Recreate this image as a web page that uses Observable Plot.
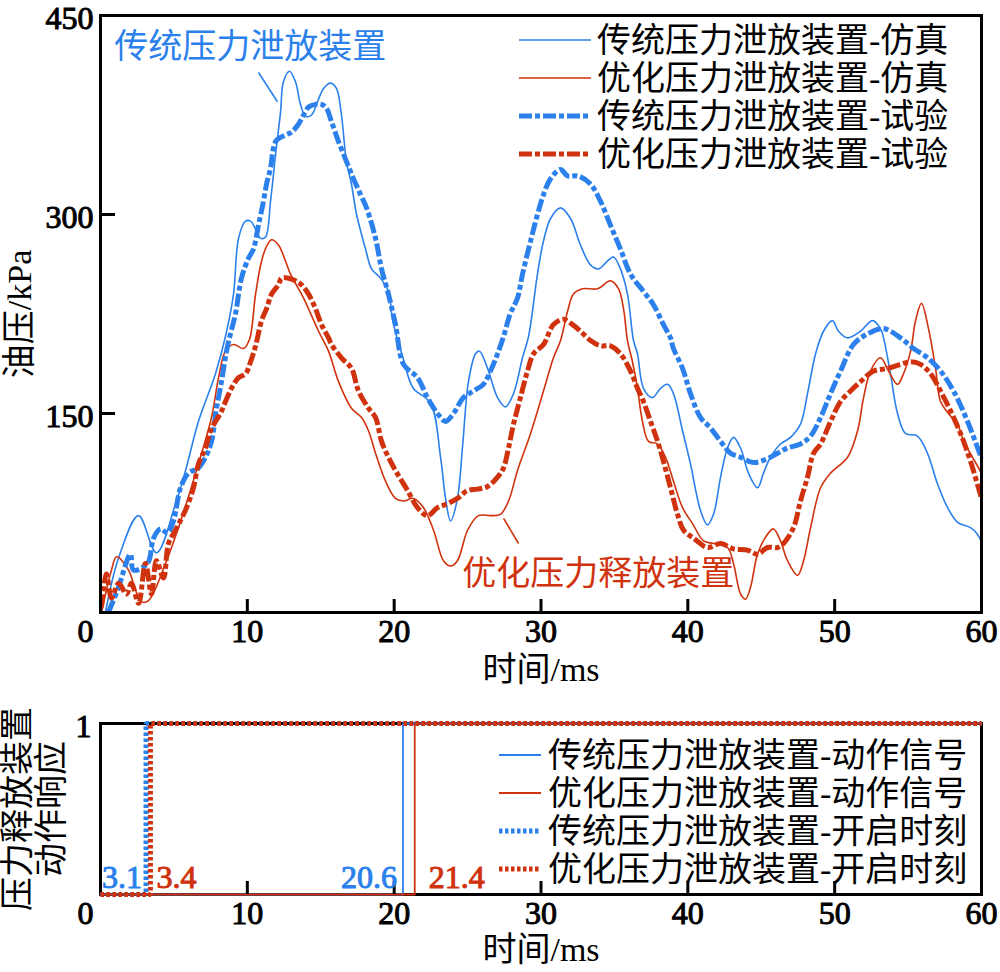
<!DOCTYPE html>
<html><head><meta charset="utf-8">
<script src="https://cdn.jsdelivr.net/npm/d3@7"></script>
<script src="https://cdn.jsdelivr.net/npm/@observablehq/plot@0.6"></script>
<style>
body{margin:0;background:#fff;}
#chart{width:1000px;}
#chart svg{display:block;}
#chart g[aria-label="x-axis tick label"], #chart g[aria-label="y-axis tick label"]{stroke:#000;stroke-width:1px;paint-order:stroke;}
</style></head><body><div id="chart"></div>
<script>
// ---------- data ----------
const xTicks = [0, 10, 20, 30, 40, 50, 60];
const yTicks = [150, 300, 450];
const topLegend = ["传统压力泄放装置-仿真", "优化压力泄放装置-仿真", "传统压力泄放装置-试验", "优化压力泄放装置-试验"];
const bottomLegend = ["传统压力泄放装置-动作信号", "优化压力泄放装置-动作信号", "传统压力泄放装置-开启时刻", "优化压力泄放装置-开启时刻"];
const annotations = ["传统压力泄放装置", "优化压力释放装置"];

// [time ms, pressure kPa]
const tradSim = [[0.34,0],[1.23,41],[2.59,73],[3.81,45],[5.11,82],[5.79,107],[6.67,144],[7.83,180],[8.51,208],[9.06,240],[9.40,282],[9.88,295],[10.22,295],[10.56,289],[10.9,282],[11.24,283],[11.58,310],[11.92,345],[12.26,377],[12.46,400],[12.87,408],[13.28,400],[13.62,383],[13.96,374],[14.37,375],[14.85,387],[15.19,395],[15.66,399],[16.07,395],[16.41,375],[16.75,340],[17.09,323],[17.44,300],[18.05,274],[18.46,259],[19.07,252],[19.61,242],[19.9,220],[20.6,192],[21.3,169],[22.47,158],[23.16,117],[23.50,86],[23.84,69],[24.31,86],[24.65,124],[25.06,174],[25.54,195],[25.81,197],[26.36,184],[27.04,162],[27.58,155],[28.13,165],[28.74,192],[29.15,208],[29.76,255],[30.17,280],[30.65,297],[31.33,305],[32.01,297],[32.69,277],[33.37,262],[33.92,259],[34.53,265],[34.94,268],[35.41,259],[35.89,240],[36.30,205],[36.57,195],[36.98,169],[37.59,162],[38.14,169],[38.62,172],[39.02,165],[39.64,137],[40.18,112],[40.86,77],[41.34,66],[41.75,74],[42.23,102],[42.70,124],[43.11,132],[43.59,124],[44.13,105],[44.75,94],[45.15,105],[45.63,117],[46.31,127],[46.99,132],[47.67,142],[48.15,165],[48.70,195],[49.24,212],[49.85,220],[50.26,212],[50.88,207],[51.76,212],[52.58,220],[53.12,214],[53.33,207],[53.80,180],[54.28,150],[54.82,135],[55.64,133],[56.32,120],[57.00,97],[57.69,79],[58.37,68],[59.25,64],[59.73,59],[60,53]];

const optSim = [[0.07,0],[0.75,32],[1.09,42],[1.91,32],[2.38,17],[2.79,8],[3.27,9],[4.43,37],[5.52,71],[6.67,112],[7.56,147],[8.04,177],[8.51,197],[9.06,202],[9.74,199],[10.15,206],[10.56,240],[10.97,265],[11.31,276],[11.65,281],[12.12,277],[12.60,265],[12.94,255],[13.83,237],[14.85,212],[15.53,197],[16.21,174],[17.09,154],[17.78,147],[18.25,137],[18.73,120],[19.41,99],[20.09,86],[20.64,84],[21.32,86],[22.0,79],[22.68,62],[23.36,39],[23.84,35],[24.31,39],[25.0,62],[25.74,73],[26.56,73],[27.24,74],[27.79,84],[28.4,107],[29.29,135],[30.17,167],[30.85,192],[31.33,205],[31.81,227],[32.21,240],[32.83,244],[33.85,244],[34.73,250],[35.28,244],[35.62,229],[35.89,205],[36.23,189],[36.57,169],[36.91,144],[37.32,129],[37.94,127],[38.48,117],[39.02,99],[39.64,79],[40.32,67],[41.07,54],[41.75,52],[42.70,49],[43.11,37],[43.59,14],[43.93,10],[44.27,19],[44.75,44],[45.43,59],[45.84,63],[46.31,54],[46.79,39],[47.47,28],[47.88,39],[48.36,64],[49.04,94],[49.72,105],[50.88,117],[51.56,137],[51.97,162],[52.44,182],[53.12,192],[53.67,182],[54.28,172],[54.69,180],[55.17,197],[55.51,220],[55.91,233],[56.39,214],[56.87,184],[57.21,159],[57.75,150],[58.37,142],[58.78,129],[59.39,117],[60,105]];

const tradTest = [[0.54,0],[1.16,17],[2.04,44],[2.25,32],[3.2,37],[3.61,56],[4.09,63],[4.56,60],[4.97,69],[5.45,94],[5.99,105],[6.67,109],[7.15,117],[7.56,129],[7.90,154],[8.24,174],[8.58,197],[8.85,210],[9.19,225],[9.60,252],[10.08,267],[10.42,274],[10.76,292],[11.10,310],[11.31,323],[11.58,335],[11.78,350],[11.99,356],[12.60,360],[13.01,362],[13.48,368],[13.83,375],[14.17,381],[14.64,383],[15.05,383],[15.39,380],[15.73,370],[16.21,355],[16.75,340],[17.23,327],[17.71,315],[18.12,305],[18.73,282],[19.14,259],[19.61,240],[20.09,217],[20.64,187],[21.59,177],[22.27,162],[22.95,150],[23.50,144],[24.04,150],[24.72,162],[25.40,167],[26.08,172],[26.56,182],[27.04,195],[27.45,208],[27.9,225],[28.40,237],[28.74,255],[29.29,280],[29.76,300],[30.17,315],[30.65,327],[31.33,334],[31.81,329],[32.55,329],[33.37,323],[34.05,310],[34.73,292],[35.41,274],[36.10,255],[36.98,242],[37.66,232],[38.34,217],[38.82,207],[39.02,199],[39.64,184],[40.18,165],[40.86,147],[41.55,139],[42.23,129],[42.91,120],[43.59,117],[44.47,113],[45.43,116],[46.11,120],[46.79,124],[47.67,127],[48.36,133],[49.04,147],[49.72,165],[50.40,182],[51.28,202],[52.24,210],[53.33,214],[54.48,207],[55.37,199],[56.32,192],[57.21,182],[58.09,167],[59.05,144],[60,116]];

const optTest = [[0.07,4],[0.41,29],[0.75,11],[1.23,22],[1.77,14],[2.11,22],[2.59,7],[3.06,37],[3.47,14],[3.81,39],[4.29,26],[4.63,52],[5.11,62],[5.52,71],[5.86,79],[6.33,94],[6.67,112],[7.15,124],[7.49,137],[7.83,144],[8.17,150],[8.51,159],[8.92,169],[9.40,177],[9.88,180],[10.22,189],[10.56,201],[10.97,220],[11.31,229],[11.65,240],[12.12,247],[12.33,252],[12.80,252],[13.28,250],[13.69,247],[14.17,240],[14.64,229],[15.05,217],[15.53,207],[15.73,202],[16.41,192],[17.09,184],[17.57,167],[18.25,154],[18.73,147],[19.14,129],[19.61,117],[20.09,107],[20.91,92],[21.59,79],[22.27,73],[22.95,79],[23.63,82],[24.31,86],[25.0,92],[25.68,93],[26.36,95],[27.04,102],[27.45,109],[27.79,124],[28.13,142],[28.60,162],[29.08,182],[29.49,195],[30.17,202],[30.85,217],[31.53,221],[32.15,217],[32.69,212],[33.37,205],[34.05,201],[34.73,201],[35.41,195],[36.10,182],[36.57,169],[36.98,159],[37.46,144],[37.94,129],[38.34,114],[38.82,94],[39.30,74],[39.71,62],[40.39,56],[41.34,49],[42.23,52],[43.11,48],[44.06,47],[44.75,44],[45.43,49],[46.11,49],[46.52,52],[47.20,64],[47.67,84],[48.15,102],[48.56,120],[49.04,127],[49.72,144],[50.40,159],[51.08,167],[51.76,174],[52.65,182],[53.60,184],[54.48,187],[55.17,189],[55.85,187],[56.53,180],[57.21,167],[57.89,152],[58.57,135],[59.25,114],[60,86]];

// bottom panel: switching times (ms)
const actionTimes = [20.6, 21.4];   // 传统, 优化 动作信号
const openTimes = [3.1, 3.4];       // 传统, 优化 开启时刻

// ---------- styling ----------
const BLUE = "#2b80ec", RED = "#d0320d";
const SERIF = "'Liberation Serif','Times New Roman',serif";
const FONT = "'Liberation Serif','Times New Roman','Noto Sans CJK SC',serif";
const W = 1000, ML = 100, MR = 19;
const H1 = 690, MT1 = 15, MB1 = 78, PH1 = H1 - MT1 - MB1;
const H2 = 282, MT2 = 33, MB2 = 78, PH2 = H2 - MT2 - MB2;
const PW = W - ML - MR;
const DASH = "13,3,5,3";
const DOT = "3.5,2.5";
const num = {fontFamily: SERIF, fontSize: 32};

const xy = {x: d => d[0], y: d => d[1]};
const thin = {strokeWidth: 1.6, curve: "catmull-rom"};
const thick = {strokeWidth: 5, strokeDasharray: DASH, strokeLinecap: "butt", strokeLinejoin: "miter", curve: "catmull-rom"};

const plot1 = Plot.plot({
  width: W, height: H1,
  marginLeft: ML, marginRight: MR, marginTop: MT1, marginBottom: MB1,
  style: {fontFamily: FONT, fontSize: "32px", background: "white", overflow: "visible"},
  x: {domain: [0, 60], label: null},
  y: {domain: [0, 450], label: null},
  marks: [
    Plot.line(tradSim, {...xy, stroke: BLUE, ...thin}),
    Plot.line(optSim, {...xy, stroke: RED, ...thin}),
    Plot.line(tradTest, {...xy, stroke: BLUE, ...thick}),
    Plot.line(optTest, {...xy, stroke: RED, ...thick}),
    Plot.frame({stroke: "black", strokeWidth: 3}),
    Plot.tickX(xTicks.slice(1, -1), {x: d => d, insetTop: PH1 - 13, stroke: "black", strokeWidth: 3}),
    Plot.tickY(yTicks.slice(0, -1), {y: d => d, insetRight: PW - 15, stroke: "black", strokeWidth: 3}),
    Plot.axisX(xTicks.slice(1), {tickSize: 0, tickPadding: 7, label: null, ...num}),
    Plot.axisX(xTicks.slice(0, 1), {tickSize: 0, tickPadding: 7, dx: -15, label: null, ...num}),
    Plot.axisY(yTicks, {tickSize: 0, tickPadding: 7, dy: 3, label: null, ...num}),
    Plot.text(["时间/ms"], {frameAnchor: "bottom", text: d => d, dy: 58, lineAnchor: "middle", textAnchor: "middle", fontSize: 34}),
    Plot.text(["油压/kPa"], {frameAnchor: "left", text: d => d, dx: -80, rotate: -90, lineAnchor: "middle", textAnchor: "middle", fontSize: 34}),
    // annotations
    Plot.text(annotations.slice(0, 1), {x: 10.2, y: 426, text: d => d, fill: BLUE, fontSize: 34}),
    Plot.link([0], {x1: 10.76, y1: 407, x2: 12.05, y2: 385, stroke: BLUE, strokeWidth: 1.6}),
    Plot.text(annotations.slice(1, 2), {x: 33.9, y: 29, text: d => d, fill: RED, fontSize: 34}),
    Plot.link([0], {x1: 27.45, y1: 71, x2: 28.47, y2: 52, stroke: RED, strokeWidth: 1.6})
  ]
});

function step(T) { return [{t: 0, v: 0}, {t: T, v: 1}, {t: 60, v: 1}]; }
const sv = {x: "t", y: "v", curve: "step-after"};
const dotted = {strokeWidth: 5, strokeDasharray: DOT, strokeLinecap: "butt", strokeLinejoin: "miter"};
const lab = (c) => ({fill: c, stroke: c, strokeWidth: 1, paintOrder: "stroke", ...num});

const plot2 = Plot.plot({
  width: W, height: H2,
  marginLeft: ML, marginRight: MR, marginTop: MT2, marginBottom: MB2,
  style: {fontFamily: FONT, fontSize: "32px", background: "white", overflow: "visible"},
  x: {domain: [0, 60], label: null},
  y: {domain: [0, 1], label: null},
  marks: [
    Plot.frame({stroke: "black", strokeWidth: 3}),
    Plot.line(step(actionTimes[0]), {...sv, stroke: BLUE, strokeWidth: 1.8}),
    Plot.line(step(actionTimes[1]), {...sv, stroke: RED, strokeWidth: 1.8}),
    Plot.line(step(openTimes[0]), {...sv, stroke: BLUE, ...dotted}),
    Plot.line(step(openTimes[1]), {...sv, stroke: RED, ...dotted}),
    Plot.tickX(xTicks.slice(1, -1), {x: d => d, insetTop: PH2 - 13, stroke: "black", strokeWidth: 3}),
    Plot.axisX(xTicks.slice(1), {tickSize: 0, tickPadding: 7, label: null, ...num}),
    Plot.axisX(xTicks.slice(0, 1), {tickSize: 0, tickPadding: 7, dx: -15, label: null, ...num}),
    Plot.axisY([1], {tickSize: 0, tickPadding: 9, dy: 3, tickFormat: d => String(d), label: null, ...num}),
    Plot.text(["时间/ms"], {frameAnchor: "bottom", text: d => d, dy: 56, lineAnchor: "middle", textAnchor: "middle", fontSize: 34}),
    Plot.text(["压力释放装置"], {frameAnchor: "left", text: d => d, dx: -82, rotate: -90, lineAnchor: "middle", textAnchor: "middle", fontSize: 34}),
    Plot.text(["动作响应"], {frameAnchor: "left", text: d => d, dx: -48, rotate: -90, lineAnchor: "middle", textAnchor: "middle", fontSize: 34}),
    Plot.text(openTimes.slice(0, 1), {x: d => d, y: 0, text: d => d.toFixed(1), textAnchor: "end", dx: -4, dy: -17, ...lab(BLUE)}),
    Plot.text(openTimes.slice(1), {x: d => d, y: 0, text: d => d.toFixed(1), textAnchor: "start", dx: 6, dy: -17, ...lab(RED)}),
    Plot.text(actionTimes.slice(0, 1), {x: d => d, y: 0, text: d => d.toFixed(1), textAnchor: "end", dx: -6, dy: -17, ...lab(BLUE)}),
    Plot.text(actionTimes.slice(1), {x: d => d, y: 0, text: d => d.toFixed(1), textAnchor: "start", dx: 14, dy: -17, ...lab(RED)})
  ]
});

document.getElementById("chart").append(plot1, plot2);

// legends
function legend(svgNode, labels, styles, x1, x2, tx, y0, dyRow) {
  const g = d3.select(svgNode).append("g").attr("font-size", 34).attr("font-family", FONT).attr("text-anchor", "start");
  labels.forEach((lab, i) => {
    const y = y0 + i * dyRow;
    g.append("line").attr("x1", x1).attr("x2", x2).attr("y1", y).attr("y2", y)
      .attr("stroke", styles[i].c).attr("stroke-width", styles[i].w)
      .attr("stroke-dasharray", styles[i].d || null).attr("stroke-linecap", "butt");
    g.append("text").attr("x", tx).attr("y", y).attr("dy", "0.36em").attr("fill", "black")
      .attr("text-anchor", "start").text(lab);
  });
}
legend(plot1, topLegend, [
  {c: BLUE, w: 1.6}, {c: RED, w: 1.6}, {c: BLUE, w: 5, d: DASH}, {c: RED, w: 5, d: DASH}
], 519, 591, 597, 40, 38);
legend(plot2, bottomLegend, [
  {c: BLUE, w: 1.8}, {c: RED, w: 1.8}, {c: BLUE, w: 5, d: DOT}, {c: RED, w: 5, d: DOT}
], 499, 541, 548, 755 - H1, 38);
</script></body></html>
